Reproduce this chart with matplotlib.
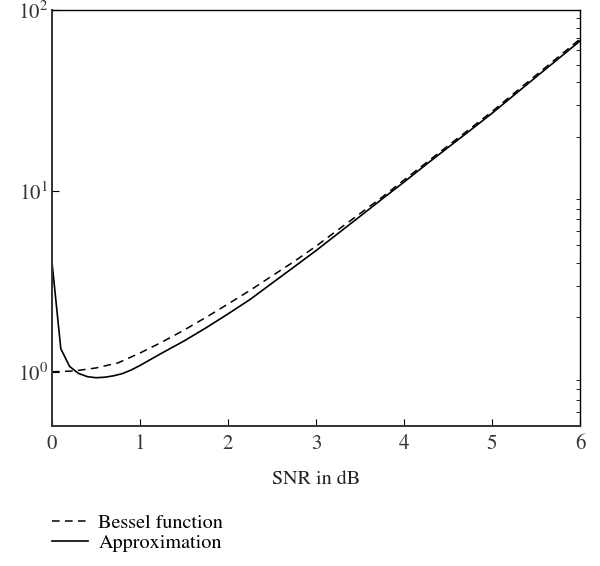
"""Bessel function vs approximation over SNR (dB), log scale."""

import matplotlib
matplotlib.use("Agg")
import matplotlib.pyplot as plt
from matplotlib.ticker import LogLocator, NullFormatter

plt.rcParams["font.family"] = ["STIXGeneral", "DejaVu Serif"]
plt.rcParams["mathtext.fontset"] = "stix"

# values
snr_bessel = [0, 0.25, 0.5, 0.75, 1.0, 1.25, 1.5, 1.75, 2.0, 2.25, 2.5, 2.75,
              3.0, 3.25, 3.5, 3.75, 4.0, 4.25, 4.5, 4.75, 5.0, 5.25, 5.5,
              5.75, 6.0]
bessel = [1.0, 1.01, 1.05, 1.12, 1.27, 1.46, 1.70, 2.00, 2.37, 2.82, 3.39,
          4.07, 4.95, 6.10, 7.50, 9.23, 11.5, 14.3, 17.8, 22.1, 27.5, 34.7,
          43.7, 55.0, 69.2]

snr_approx = [0, 0.1, 0.2, 0.3, 0.4, 0.5, 0.6, 0.7, 0.8, 0.9, 1.0, 1.25,
              1.5, 1.75, 2.0, 2.25, 2.5, 2.75, 3.0, 3.25, 3.5, 3.75, 4.0,
              4.25, 4.5, 4.75, 5.0, 5.25, 5.5, 5.75, 6.0]
approx = [4.02, 1.34, 1.07, 0.98, 0.94, 0.927, 0.933, 0.95, 0.977, 1.023,
          1.084, 1.27, 1.48, 1.75, 2.09, 2.51, 3.09, 3.80, 4.68, 5.82, 7.24,
          9.02, 11.2, 14.0, 17.4, 21.6, 26.9, 33.9, 42.7, 53.7, 67.6]

fig = plt.figure(figsize=(6.0, 5.66), dpi=100)
ax = fig.add_axes([0.0867, 0.247, 0.88, 0.735])

ax.plot(snr_bessel, bessel, color="black", lw=1.1, ls=(0, (5, 3.5)),
        label="Bessel function")
ax.plot(snr_approx, approx, color="black", lw=1.2, label="Approximation")

ax.set_yscale("log")
ax.set_xlim(0, 6)
ax.set_ylim(0.5, 100)
ax.set_xticks([0, 1, 2, 3, 4, 5, 6])
ax.yaxis.set_minor_locator(LogLocator(base=10, subs=range(2, 10)))
ax.yaxis.set_minor_formatter(NullFormatter())

ax.tick_params(which="both", direction="in", labelsize=15, top=False,
               labelcolor="#333333")
ax.tick_params(which="major", left=True, right=False, length=5)
ax.tick_params(which="minor", left=False, right=True, length=3)
ax.tick_params(axis="x", pad=6)
ax.tick_params(axis="y", pad=3)

for sp in ax.spines.values():
    sp.set_linewidth(1.0)
ax.spines["left"].set_linewidth(1.4)
ax.spines["bottom"].set_linewidth(1.4)
ax.spines["left"].set_color("#333333")
ax.spines["bottom"].set_color("#333333")

ax.set_xlabel("SNR in dB", fontsize=14.5, labelpad=12, color="#222222")

fig.legend(loc="upper left", bbox_to_anchor=(0.0867, 0.092),
           bbox_transform=fig.transFigure, frameon=False, fontsize=14.5,
           handlelength=1.8, handletextpad=0.5, labelspacing=0.08,
           borderpad=0, borderaxespad=0)

fig.savefig("out.png", dpi=100)
